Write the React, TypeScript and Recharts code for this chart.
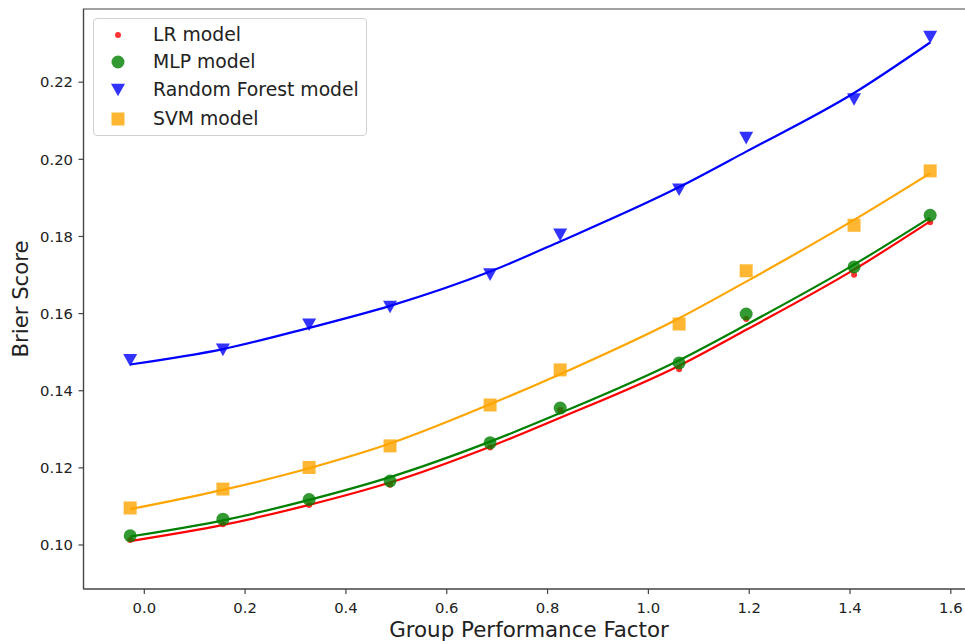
import React from 'react';
import { ComposedChart, Line, XAxis, YAxis, ReferenceArea } from 'recharts';

// Group Performance Factor (x positions of the markers)
const factor = [-0.028, 0.156, 0.327, 0.4875, 0.686, 0.825, 1.061, 1.194, 1.408, 1.559];

// Brier scores
const lrScore = [0.1013, 0.1054, 0.1104, 0.1156, 0.1253, 0.1350, 0.1456, 0.1586, 0.1701, 0.1837];
const mlpScore = [0.1024, 0.1067, 0.1118, 0.1166, 0.1265, 0.1355, 0.1472, 0.1599, 0.1721, 0.1855];
const rfScore = [0.1479, 0.1506, 0.1571, 0.1617, 0.1701, 0.1804, 0.1921, 0.2055, 0.2155, 0.2317];
const svmScore = [0.1096, 0.1145, 0.1201, 0.1257, 0.1363, 0.1454, 0.1573, 0.1711, 0.1829, 0.1970];

// fitted curves at the same x positions
const lrFit = [0.1010, 0.1052, 0.1104, 0.1162, 0.1255, 0.1330, 0.1465, 0.1558, 0.1714, 0.1839];
const mlpFit = [0.1022, 0.1064, 0.1117, 0.1176, 0.1268, 0.1342, 0.1479, 0.1571, 0.1727, 0.1849];
const rfFit = [0.1468, 0.1508, 0.1563, 0.1620, 0.1709, 0.1787, 0.1928, 0.2020, 0.2172, 0.2303];
const svmFit = [0.1093, 0.1143, 0.1199, 0.1263, 0.1365, 0.1443, 0.1588, 0.1683, 0.1843, 0.1964];

const xTicks = [0, 0.2, 0.4, 0.6, 0.8, 1.0, 1.2, 1.4, 1.6];
const yTicks = [0.1, 0.12, 0.14, 0.16, 0.18, 0.2, 0.22];
const xDomain = [-0.1206, 1.64];
const yDomain = [0.08859, 0.23898];

const seriesNames = ['LR model', 'MLP model', 'Random Forest model', 'SVM model'];

const data = factor.map((x, i) => ({
  x,
  lr: lrScore[i],
  mlp: mlpScore[i],
  rf: rfScore[i],
  svm: svmScore[i],
  lrFit: lrFit[i],
  mlpFit: mlpFit[i],
  rfFit: rfFit[i],
  svmFit: svmFit[i],
}));

const FONT = '"DejaVu Sans", sans-serif';
const AXIS = '#444';

const RED = '#ff0000';
const GREEN = '#008000';
const BLUE = '#0000ff';
const ORANGE = '#ffa500';

const marker = (kind: string, cx: number, cy: number, key?: any) => {
  if (kind === 'lr') return <circle key={key} cx={cx} cy={cy} r={3} fill={RED} fillOpacity={0.8} />;
  if (kind === 'mlp') return <circle key={key} cx={cx} cy={cy} r={6.5} fill={GREEN} fillOpacity={0.8} />;
  if (kind === 'rf')
    return (
      <path
        key={key}
        d={`M${cx - 7},${cy - 6.3}L${cx + 7},${cy - 6.3}L${cx},${cy + 6.3}Z`}
        fill={BLUE}
        fillOpacity={0.8}
      />
    );
  return <rect key={key} x={cx - 6.5} y={cy - 6.5} width={13} height={13} fill={ORANGE} fillOpacity={0.8} />;
};

const dotFor = (kind: string) => (p: any) => marker(kind, p.cx, p.cy, `${kind}-${p.index}`);

const legendRows = [
  { kind: 'lr', name: seriesNames[0], cy: 34.5 },
  { kind: 'mlp', name: seriesNames[1], cy: 62.3 },
  { kind: 'rf', name: seriesNames[2], cy: 90.1 },
  { kind: 'svm', name: seriesNames[3], cy: 118.5 },
];

const LegendBox = () => (
  <div style={{ position: 'absolute', left: 93, top: 18, width: 274, height: 118, fontFamily: FONT }}>
    <div
      style={{
        position: 'absolute',
        left: 0,
        top: 0,
        width: 274,
        height: 118,
        boxSizing: 'border-box',
        border: '1px solid #d0d0d0',
        borderRadius: 4,
        background: 'rgba(255,255,255,0.8)',
      }}
    />
    {legendRows.map((r) => (
      <div key={r.kind}>
        <svg
          width={30}
          height={28}
          style={{ position: 'absolute', left: 118 - 93 - 15, top: r.cy - 18 - 14 }}
        >
          {marker(r.kind, 15, 14)}
        </svg>
        <div
          style={{
            position: 'absolute',
            left: 153 - 93,
            top: r.cy - 18 - 14,
            height: 28,
            lineHeight: '28px',
            fontSize: 18.8,
            color: '#222',
            whiteSpace: 'nowrap',
          }}
        >
          {r.name}
        </div>
      </div>
    ))}
  </div>
);

const tickStyle = { fontSize: 14.8, fill: '#222', fontFamily: FONT };

export default function App() {
  return (
    <div
      style={{
        position: 'absolute',
        left: 0,
        top: 0,
        width: 965,
        height: 641,
        overflow: 'hidden',
        background: '#fff',
      }}
    >
      <ComposedChart
        width={1000}
        height={641}
        data={data}
        margin={{ top: 9, right: 29, bottom: 0, left: 0 }}
      >
        <XAxis
          dataKey="x"
          type="number"
          domain={xDomain}
          ticks={xTicks}
          allowDataOverflow
          tickFormatter={(v: number) => v.toFixed(1)}
          height={52}
          tickSize={5}
          tickMargin={8}
          tick={tickStyle}
          axisLine={{ stroke: AXIS, strokeWidth: 1.2 }}
          tickLine={{ stroke: AXIS, strokeWidth: 1.2 }}
          label={{
            content: () => (
              <text x={529} y={637} textAnchor="middle" fontSize={21.4} fontFamily={FONT} fill="#222">
                Group Performance Factor
              </text>
            ),
          }}
        />
        <YAxis
          type="number"
          domain={yDomain}
          ticks={yTicks}
          allowDataOverflow
          tickFormatter={(v: number) => v.toFixed(2)}
          width={83.5}
          tickSize={5}
          tickMargin={5.5}
          tick={tickStyle}
          axisLine={{ stroke: AXIS, strokeWidth: 1.2 }}
          tickLine={{ stroke: AXIS, strokeWidth: 1.2 }}
          label={{
            content: () => (
              <text
                x={28}
                y={299}
                transform="rotate(-90 28 299)"
                textAnchor="middle"
                fontSize={21.2}
                fontFamily={FONT}
                fill="#222"
              >
                Brier Score
              </text>
            ),
          }}
        />
        <ReferenceArea
          x1={xDomain[0]}
          x2={xDomain[1]}
          y1={yDomain[0]}
          y2={yDomain[1]}
          ifOverflow="visible"
          fill="none"
          stroke={AXIS}
          strokeWidth={1.2}
        />
        <Line dataKey="lr" stroke="none" dot={dotFor('lr')} activeDot={false} isAnimationActive={false} legendType="none" />
        <Line dataKey="lrFit" type="monotone" stroke={RED} strokeWidth={2.2} dot={false} activeDot={false} isAnimationActive={false} legendType="none" />
        <Line dataKey="mlp" stroke="none" dot={dotFor('mlp')} activeDot={false} isAnimationActive={false} legendType="none" />
        <Line dataKey="mlpFit" type="monotone" stroke={GREEN} strokeWidth={2.2} dot={false} activeDot={false} isAnimationActive={false} legendType="none" />
        <Line dataKey="rf" stroke="none" dot={dotFor('rf')} activeDot={false} isAnimationActive={false} legendType="none" />
        <Line dataKey="rfFit" type="monotone" stroke={BLUE} strokeWidth={2.2} dot={false} activeDot={false} isAnimationActive={false} legendType="none" />
        <Line dataKey="svm" stroke="none" dot={dotFor('svm')} activeDot={false} isAnimationActive={false} legendType="none" />
        <Line dataKey="svmFit" type="monotone" stroke={ORANGE} strokeWidth={2.2} dot={false} activeDot={false} isAnimationActive={false} legendType="none" />
      </ComposedChart>
      <LegendBox />
    </div>
  );
}
